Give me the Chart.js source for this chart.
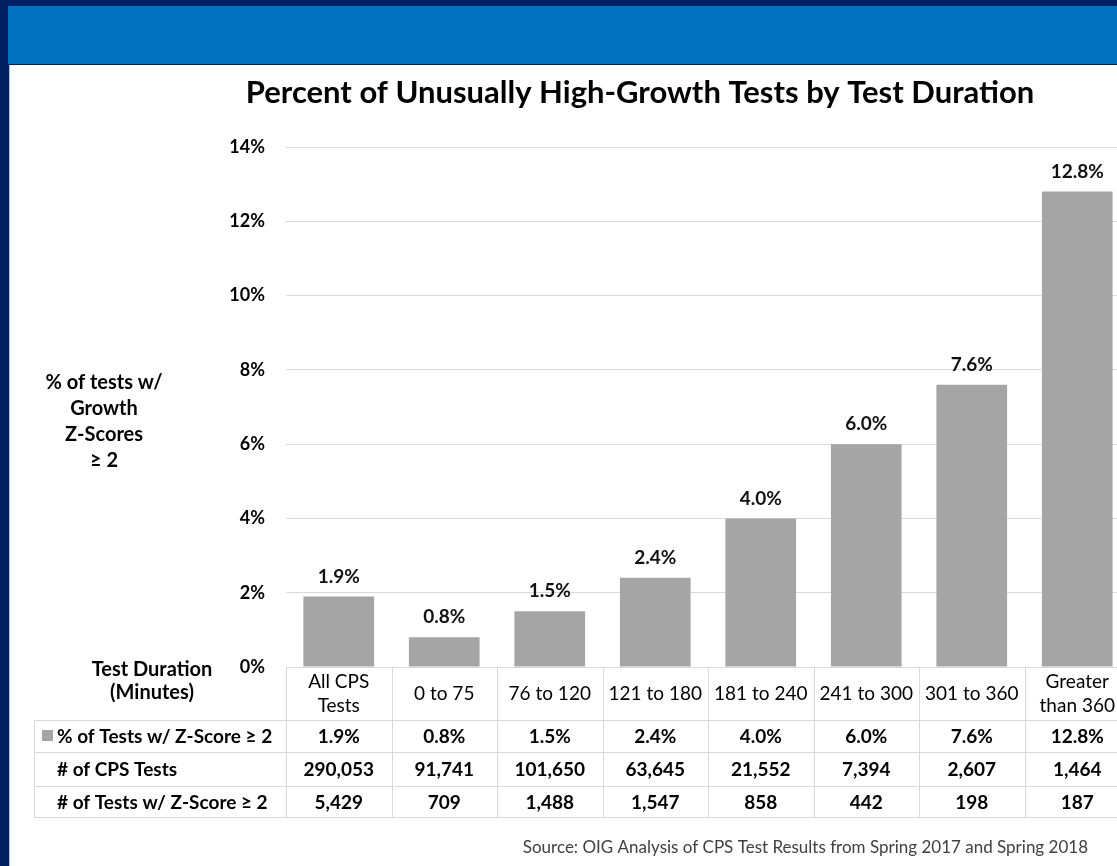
<!DOCTYPE html>
<html lang="en">
<head>
  <meta charset="UTF-8">
  <title>Percent of Unusually High-Growth Tests by Test Duration</title>
  <script src="https://cdn.jsdelivr.net/npm/chart.js@4"></script>
  <style>
    html, body {
      margin: 0;
      padding: 0;
      width: 1117px;
      height: 866px;
      overflow: hidden;
      background: #002060;
      font-family: Lato, 'Open Sans', sans-serif;
    }
    .band {
      position: absolute;
      left: 8px;
      top: 6px;
      width: 1109px;
      height: 58px;
      background: #0070c0;
    }
    .sheet {
      position: absolute;
      left: 9px;
      top: 65px;
      width: 1108px;
      height: 801px;
      background: #fff;
      border-left: 1px solid #9dc3e6;
    }
    #chart {
      position: absolute;
      left: 0;
      top: 0;
    }
  </style>
</head>
<body>
  <div class="band"></div>
  <div class="sheet"></div>
  <canvas id="chart" width="1140" height="866"></canvas>
  <script>
    // values
    const durations = [['All CPS', 'Tests'], ['0 to 75'], ['76 to 120'], ['121 to 180'],
      ['181 to 240'], ['241 to 300'], ['301 to 360'], ['Greater', 'than 360']];
    const pctHighGrowth = [1.9, 0.8, 1.5, 2.4, 4.0, 6.0, 7.6, 12.8];
    const cpsTests = ['290,053', '91,741', '101,650', '63,645', '21,552', '7,394', '2,607', '1,464'];
    const highGrowthTests = ['5,429', '709', '1,488', '1,547', '858', '442', '198', '187'];
    const rowLabels = ['% of Tests w/ Z-Score \u2265 2', '# of CPS Tests', '# of Tests w/ Z-Score \u2265 2'];
    const yTitle = ['% of tests w/', 'Growth', 'Z-Scores', '\u2265 2'];

    const barColor = '#a5a5a5';
    const lineColor = '#d9d9d9';
    const font = 'Lato, "Open Sans", sans-serif';

    // title, axis captions, data labels and the data table under the bars
    const slideText = {
      id: 'slideText',
      afterDatasetsDraw(chart) {
        const ctx = chart.ctx;
        const meta = chart.getDatasetMeta(0);
        ctx.save();
        ctx.fillStyle = '#111';
        ctx.textAlign = 'center';
        ctx.textBaseline = 'middle';
        ctx.font = 'bold 19px ' + font;
        meta.data.forEach((bar, i) => {
          ctx.fillText(pctHighGrowth[i].toFixed(1) + '%', bar.x, bar.y - 20);
        });
        ctx.restore();
      },
      afterDraw(chart) {
        const ctx = chart.ctx;
        const x = chart.scales.x;
        const area = chart.chartArea;
        const colW = (area.right - area.left) / durations.length;
        const tableLeft = 34;
        const rows = [720, 752, 786, 817];
        ctx.save();

        // chart title
        ctx.fillStyle = '#000';
        ctx.textAlign = 'center';
        ctx.textBaseline = 'middle';
        ctx.font = 'bold 31px ' + font;
        ctx.fillText('Percent of Unusually High-Growth Tests by Test Duration', 640, 93);

        // y axis caption
        ctx.font = 'bold 20px ' + font;
        yTitle.forEach((t, i) => ctx.fillText(t, 104, 383 + i * 25.7));
        ctx.fillText('Test Duration', 152, 670);
        ctx.fillText('(Minutes)', 152, 693);

        // table grid
        ctx.strokeStyle = lineColor;
        ctx.lineWidth = 1;
        ctx.beginPath();
        rows.forEach(y => {
          ctx.moveTo(tableLeft, y + 0.5);
          ctx.lineTo(area.right, y + 0.5);
        });
        ctx.moveTo(tableLeft + 0.5, rows[0]);
        ctx.lineTo(tableLeft + 0.5, rows[3]);
        for (let i = 0; i <= durations.length; i++) {
          const cx = Math.round(area.left + i * colW) + 0.5;
          ctx.moveTo(cx, area.bottom);
          ctx.lineTo(cx, rows[3]);
        }
        ctx.stroke();

        // header row: test duration categories
        ctx.fillStyle = '#000';
        ctx.font = '19px ' + font;
        durations.forEach((lab, i) => {
          const cx = x.getPixelForValue(i);
          if (lab.length === 2) {
            ctx.fillText(lab[0], cx, 682);
            ctx.fillText(lab[1], cx, 706);
          } else {
            ctx.fillText(lab[0], cx, 694);
          }
        });

        // data rows
        const rowValues = [pctHighGrowth.map(v => v.toFixed(1) + '%'), cpsTests, highGrowthTests];
        ctx.font = 'bold 19px ' + font;
        rowValues.forEach((vals, r) => {
          const cy = (rows[r] + rows[r + 1]) / 2 + 1;
          vals.forEach((v, i) => ctx.fillText(v, x.getPixelForValue(i), cy));
          ctx.textAlign = 'left';
          ctx.fillText(rowLabels[r], 57, cy);
          ctx.textAlign = 'center';
        });
        // legend key
        ctx.fillStyle = barColor;
        ctx.fillRect(42, 730, 11, 11);

        // source note
        ctx.fillStyle = '#404040';
        ctx.textAlign = 'right';
        ctx.font = '17px ' + font;
        ctx.fillText('Source: OIG Analysis of CPS Test Results from Spring 2017 and Spring 2018', 1088, 848);
        ctx.restore();
      }
    };

    new Chart(document.getElementById('chart').getContext('2d'), {
      type: 'bar',
      data: {
        labels: durations,
        datasets: [{
          label: '% of Tests w/ Z-Score \u2265 2',
          data: pctHighGrowth,
          backgroundColor: barColor,
          borderWidth: 0,
          categoryPercentage: 1,
          barPercentage: 0.67
        }]
      },
      options: {
        responsive: false,
        animation: false,
        layout: { padding: { left: 226, top: 147, right: 10, bottom: 199 } },
        plugins: {
          legend: { display: false },
          tooltip: { enabled: false }
        },
        scales: {
          x: {
            grid: { display: false },
            border: { display: false },
            ticks: { display: false },
            afterFit: s => { s.height = 0; }
          },
          y: {
            min: 0,
            max: 14,
            afterFit: s => { s.width = 60; },
            grid: { color: lineColor, drawTicks: false },
            border: { display: false },
            ticks: {
              stepSize: 2,
              padding: 21,
              color: '#000',
              font: { family: font, size: 18, weight: 'bold' },
              callback: v => v + '%'
            }
          }
        }
      },
      plugins: [slideText]
    });
  </script>
</body>
</html>
